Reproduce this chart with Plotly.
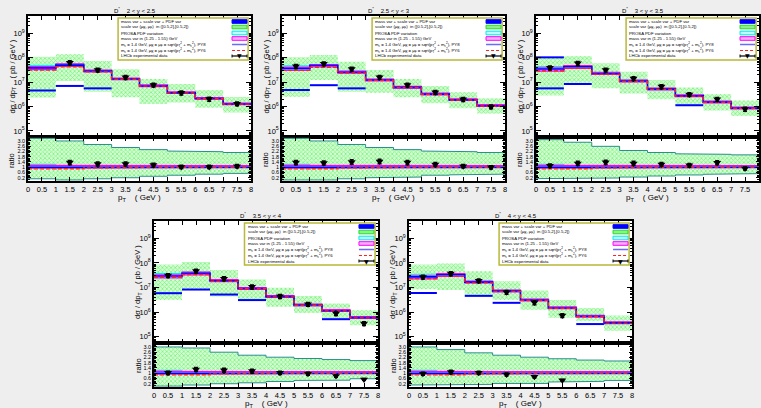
import plotly.graph_objects as go

W, H = 761, 408

# ---------------- data ----------------
pt_edges = [0, 1, 2, 3, 4, 5, 6, 7, 8]
pt_centers = [0.5, 1.5, 2.5, 3.5, 4.5, 5.5, 6.5, 7.5]
x_tick_vals = [0, 0.5, 1, 1.5, 2, 2.5, 3, 3.5, 4, 4.5, 5, 5.5, 6, 6.5, 7, 7.5, 8]
x_tick_text = ["0", "0.5", "1", "1.5", "2", "2.5", "3", "3.5", "4", "4.5", "5",
               "5.5", "6", "6.5", "7", "7.5", "8"]
y_tick_vals = [1e5, 1e6, 1e7, 1e8, 1e9]
y_tick_text = ["10<sup>5</sup>", "10<sup>6</sup>", "10<sup>7</sup>", "10<sup>8</sup>", "10<sup>9</sup>"]
r_tick_vals = [0.2, 0.6, 1.0, 1.4, 1.8, 2.2, 2.6, 3.0]
r_tick_text = ["0.2", "0.6", "1", "1.4", "1.8", "2.2", "2.6", "3.0"]

titles = ["D<sup>*</sup>    2 < y < 2.5", "D<sup>*</sup>    2.5 < y < 3", "D<sup>*</sup>    3 < y < 3.5",
          "D<sup>*</sup>    3.5 < y < 4", "D<sup>*</sup>    4 < y < 4.5"]

legend_labels = [
    "mass var + scale var + PDF var",
    "scale var (\u03bc<sub>R</sub>, \u03bc<sub>F</sub>)  in ([0.5,2],[0.5,2])",
    "PROSA PDF variation",
    "mass var in (1.25 - 1.55) GeV",
    "m<sub>c</sub> = 1.4 GeV, \u03bc<sub>R</sub> = \u03bc<sub>F</sub> = sqrt(p<sub>T</sub><sup>2</sup> + m<sub>c</sub><sup>2</sup>), PY8",
    "m<sub>c</sub> = 1.4 GeV, \u03bc<sub>R</sub> = \u03bc<sub>F</sub> = sqrt(p<sub>T</sub><sup>2</sup> + m<sub>c</sub><sup>2</sup>), PY6",
    "LHCb experimental data",
]

# panel 1 : 2 < y < 2.5
p1_py8 = [3.8e7, 4.9e7, 2.8e7, 1.32e7, 6.9e6, 3.6e6, 2.1e6, 1.26e6]
p1_py6 = [3.1e7, 4.2e7, 2.6e7, 1.3e7, 6.8e6, 3.55e6, 2.05e6, 1.24e6]
p1_mass_hi = [4.3e7, 5.5e7, 3.1e7, 1.45e7, 7.6e6, 3.95e6, 2.3e6, 1.38e6]
p1_mass_lo = [3.2e7, 4.3e7, 2.6e7, 1.24e7, 6.5e6, 3.4e6, 1.98e6, 1.19e6]
p1_pdf_hi = [4.8e7, 5.4e7, 3.0e7, 1.4e7, 7.3e6, 3.8e6, 2.2e6, 1.33e6]
p1_pdf_lo = [3.5e7, 4.5e7, 2.65e7, 1.26e7, 6.6e6, 3.45e6, 2.0e6, 1.2e6]
p1_scale_hi = [1.07e8, 1.38e8, 7.2e7, 3.3e7, 1.32e7, 8.3e6, 4.7e6, 2.45e6]
p1_scale_lo = [2.3e6, 1.1e7, 4.0e6, 2.4e6, 1.26e6, 1.45e6, 8.9e5, 5.6e5]
p1_tot_hi = [None, None, None, None, None, None, None, None]
p1_tot_lo = [4.5e6, 6.9e6, 5.5e6, None, None, None, None, None]
p1_data = [None, 6.2e7, 3.1e7, 1.55e7, 7.6e6, 3.6e6, 2.0e6, 1.29e6]
p1_r_scale_hi = [3.2, 3.0, 2.73, 2.5, 2.34, 2.23, 2.18, 2.12]
p1_r_scale_lo = [0.12, 0.03, 0.12, 0.2, 0.31, 0.39, 0.47, 0.53]
p1_r_data = [None, 1.35, 1.24, 1.24, 1.16, 1.02, 1.02, 1.08]

# panel 2 : 2.5 < y < 3
p2_py8 = [3.6e7, 4.7e7, 2.5e7, 1.2e7, 6.0e6, 3.2e6, 1.86e6, 1.07e6]
p2_py6 = [3.0e7, 4.0e7, 2.35e7, 1.18e7, 5.9e6, 3.15e6, 1.83e6, 1.05e6]
p2_mass_hi = [4.1e7, 5.2e7, 2.8e7, 1.32e7, 6.6e6, 3.5e6, 2.05e6, 1.18e6]
p2_mass_lo = [3.0e7, 4.1e7, 2.3e7, 1.12e7, 5.6e6, 3.0e6, 1.75e6, 1.0e6]
p2_pdf_hi = [4.6e7, 5.2e7, 2.75e7, 1.3e7, 6.5e6, 3.45e6, 2.0e6, 1.15e6]
p2_pdf_lo = [3.3e7, 4.3e7, 2.35e7, 1.14e7, 5.7e6, 3.05e6, 1.78e6, 1.02e6]
p2_scale_hi = [1.02e8, 1.26e8, 6.8e7, 3.1e7, 1.32e7, 6.9e6, 3.8e6, 2.14e6]
p2_scale_lo = [2.5e6, 1.2e7, 4.0e6, 3.6e6, 2.4e6, 1.35e6, 8.5e5, 5.2e5]
p2_tot_hi = [None, None, None, None, None, None, None, None]
p2_tot_lo = [4.7e6, 7.4e6, 5.5e6, None, None, None, None, None]
p2_data = [4.4e7, 5.6e7, 3.4e7, 1.58e7, 7.6e6, 3.8e6, 1.95e6, 9.8e5]
p2_r_scale_hi = [3.2, 3.0, 2.73, 2.5, 2.34, 2.23, 2.18, 2.12]
p2_r_scale_lo = [0.03, 0.03, 0.12, 0.2, 0.25, 0.39, 0.42, 0.47]
p2_r_data = [1.35, 1.32, 1.4, 1.43, 1.35, 1.21, 1.08, 0.99]

# panel 3 : 3 < y < 3.5
p3_py8 = [3.4e7, 4.2e7, 2.24e7, 1.1e7, 5.1e6, 2.7e6, 1.5e6, 8.5e5]
p3_py6 = [2.9e7, 3.7e7, 2.1e7, 1.05e7, 5.0e6, 2.65e6, 1.48e6, 8.4e5]
p3_mass_hi = [3.8e7, 4.7e7, 2.5e7, 1.21e7, 5.6e6, 2.95e6, 1.65e6, 9.3e5]
p3_mass_lo = [2.8e7, 3.6e7, 2.05e7, 1.02e7, 4.75e6, 2.5e6, 1.4e6, 7.9e5]
p3_pdf_hi = [4.3e7, 4.7e7, 2.45e7, 1.2e7, 5.55e6, 2.9e6, 1.62e6, 9.2e5]
p3_pdf_lo = [3.1e7, 3.8e7, 2.1e7, 1.04e7, 4.8e6, 2.55e6, 1.42e6, 8.0e5]
p3_scale_hi = [1.02e8, 1.15e8, 5.8e7, 2.6e7, 1.2e7, 5.9e6, 3.2e6, 1.74e6]
p3_scale_lo = [2.8e6, 9.3e6, 5.5e6, 3.4e6, 1.95e6, 1.15e6, 6.8e5, 4.1e5]
p3_tot_hi = [1.02e8, None, None, None, None, None, None, None]
p3_tot_lo = [5.5e6, 8.3e6, None, None, None, 1.12e6, None, None]
p3_data = [3.8e7, 5.8e7, 3.1e7, 1.4e7, 6.5e6, 3.1e6, 1.95e6, 7.8e5]
p3_r_scale_hi = [3.1, 2.9, 2.59, 2.27, 2.12, 2.02, 1.98, 1.94]
p3_r_scale_lo = [0.13, 0.15, 0.18, 0.25, 0.33, 0.41, 0.46, 0.51]
p3_r_data = [1.11, 1.29, 1.37, 1.29, 1.21, 1.14, 1.34, 0.90]

# panel 4 : 3.5 < y < 4
p4_py8 = [2.95e7, 3.8e7, 1.9e7, 9.1e6, 4.3e6, 1.95e6, 1.15e6, 6.0e5]
p4_py6 = [2.6e7, 3.4e7, 1.8e7, 8.9e6, 4.2e6, 1.92e6, 1.13e6, 5.9e5]
p4_mass_hi = [3.3e7, 4.2e7, 2.1e7, 1.0e7, 4.7e6, 2.15e6, 1.27e6, 6.6e5]
p4_mass_lo = [2.45e7, 3.25e7, 1.75e7, 8.5e6, 4.0e6, 1.82e6, 1.07e6, 5.6e5]
p4_pdf_hi = [3.7e7, 4.2e7, 2.05e7, 9.8e6, 4.6e6, 2.1e6, 1.24e6, 6.4e5]
p4_pdf_lo = [2.7e7, 3.4e7, 1.8e7, 8.7e6, 4.1e6, 1.86e6, 1.1e6, 5.7e5]
p4_scale_hi = [8.7e7, 1.1e8, 5.1e7, 2.14e7, 9.8e6, 4.5e6, 2.24e6, 1.2e6]
p4_scale_lo = [3.1e6, 8.3e6, 4.3e6, 3.1e6, 1.66e6, 9.3e5, 5.5e5, 2.95e5]
p4_tot_hi = [None, None, None, None, None, None, None, None]
p4_tot_lo = [5.9e6, 8.3e6, 5.2e6, 3.1e6, None, None, 5.2e5, None]
p4_data = [3.1e7, 4.7e7, 2.3e7, 1.07e7, 4.4e6, 2.1e6, 8.9e5, 3.5e5]
p4_r_scale_hi = [3.0, 2.92, 2.6, 2.37, 2.22, 2.12, 2.04, 1.96]
p4_r_scale_lo = [0.02, 0.1, 0.2, 0.27, 0.37, 0.45, 0.47, 0.58]
p4_r_data = [1.03, 1.28, 1.23, 1.16, 1.03, 0.95, 0.78, 0.53]

# panel 5 : 4 < y < 4.5
p5_py8 = [2.7e7, 3.3e7, 1.66e7, 7.2e6, 3.1e6, 1.48e6, 6.8e5, 3.7e5]
p5_py6 = [2.3e7, 2.9e7, 1.55e7, 7.0e6, 3.05e6, 1.45e6, 6.7e5, 3.6e5]
p5_mass_hi = [3.0e7, 3.65e7, 1.83e7, 7.9e6, 3.4e6, 1.63e6, 7.5e5, 4.05e5]
p5_mass_lo = [2.25e7, 2.85e7, 1.53e7, 6.7e6, 2.9e6, 1.38e6, 6.35e5, 3.45e5]
p5_pdf_hi = [3.4e7, 3.6e7, 1.8e7, 7.8e6, 3.35e6, 1.6e6, 7.4e5, 4.0e5]
p5_pdf_lo = [2.45e7, 2.95e7, 1.56e7, 6.8e6, 2.95e6, 1.4e6, 6.45e5, 3.5e5]
p5_scale_hi = [8.7e7, 9.5e7, 4.6e7, 1.78e7, 7.6e6, 3.1e6, 1.48e6, 7.4e5]
p5_scale_lo = [8.5e6, 7.9e6, 5.0e6, 3.1e6, 1.26e6, 5.9e5, 4.3e5, 1.78e5]
p5_tot_hi = [None, None, None, None, None, None, None, None]
p5_tot_lo = [6.0e6, None, 4.6e6, 2.4e6, None, None, 3.3e5, None]
p5_data = [2.7e7, 3.7e7, 1.9e7, 6.5e6, 2.45e6, 7.4e5, None, None]
p5_r_scale_hi = [3.0, 2.8, 2.55, 2.37, 2.22, 2.1, 2.0, 1.93]
p5_r_scale_lo = [0.1, 0.1, 0.15, 0.22, 0.22, 0.33, 0.38, 0.45]
p5_r_data = [0.95, 1.10, 1.03, 0.90, 0.73, 0.47, None, None]

# ratio-panel central bands (common to all rapidity bins)
r_mass_hi = [1.14, 1.12, 1.12, 1.12, 1.12, 1.12, 1.12, 1.12]
r_mass_lo = [0.93, 0.95, 0.96, 0.96, 0.96, 0.96, 0.96, 0.96]
r_pdf_hi = [1.22, 1.13, 1.1, 1.1, 1.1, 1.1, 1.1, 1.1]
r_pdf_lo = [0.95, 0.96, 0.97, 0.97, 0.97, 0.97, 0.97, 0.97]
r_py8 = [1.0, 1.0, 1.0, 1.0, 1.0, 1.0, 1.0, 1.0]
r_py6 = [0.87, 0.88, 0.95, 0.98, 0.99, 0.99, 0.99, 0.99]

panels_data = [
    dict(py8=p1_py8, py6=p1_py6, mhi=p1_mass_hi, mlo=p1_mass_lo, phi=p1_pdf_hi, plo=p1_pdf_lo,
         shi=p1_scale_hi, slo=p1_scale_lo, thi=p1_tot_hi, tlo=p1_tot_lo, data=p1_data,
         rshi=p1_r_scale_hi, rslo=p1_r_scale_lo, rdata=p1_r_data),
    dict(py8=p2_py8, py6=p2_py6, mhi=p2_mass_hi, mlo=p2_mass_lo, phi=p2_pdf_hi, plo=p2_pdf_lo,
         shi=p2_scale_hi, slo=p2_scale_lo, thi=p2_tot_hi, tlo=p2_tot_lo, data=p2_data,
         rshi=p2_r_scale_hi, rslo=p2_r_scale_lo, rdata=p2_r_data),
    dict(py8=p3_py8, py6=p3_py6, mhi=p3_mass_hi, mlo=p3_mass_lo, phi=p3_pdf_hi, plo=p3_pdf_lo,
         shi=p3_scale_hi, slo=p3_scale_lo, thi=p3_tot_hi, tlo=p3_tot_lo, data=p3_data,
         rshi=p3_r_scale_hi, rslo=p3_r_scale_lo, rdata=p3_r_data),
    dict(py8=p4_py8, py6=p4_py6, mhi=p4_mass_hi, mlo=p4_mass_lo, phi=p4_pdf_hi, plo=p4_pdf_lo,
         shi=p4_scale_hi, slo=p4_scale_lo, thi=p4_tot_hi, tlo=p4_tot_lo, data=p4_data,
         rshi=p4_r_scale_hi, rslo=p4_r_scale_lo, rdata=p4_r_data),
    dict(py8=p5_py8, py6=p5_py6, mhi=p5_mass_hi, mlo=p5_mass_lo, phi=p5_pdf_hi, plo=p5_pdf_lo,
         shi=p5_scale_hi, slo=p5_scale_lo, thi=p5_tot_hi, tlo=p5_tot_lo, data=p5_data,
         rshi=p5_r_scale_hi, rslo=p5_r_scale_lo, rdata=p5_r_data),
]

# ---------------- layout geometry (pixels) ----------------
geom = [
    dict(x0=28, x1=251, yt=16, ym=137, yb=181),
    dict(x0=282, x1=505, yt=16, ym=137, yb=181),
    dict(x0=536, x1=759, yt=16, ym=137, yb=181),
    dict(x0=154, x1=378, yt=221, ym=343, yb=387),
    dict(x0=409, x1=632, yt=221, ym=343, yb=387),
]

FONT = "Liberation Sans"
BLUE = "#0000ff"
PY8C = "#6a6aff"
RED = "#ff2020"
MAG = "#ff00ff"
CYAN = "#00e8e8"
TEAL = "#2a8f8f"


def band_path(lo, hi):
    xs, ys = [], []
    for i in range(len(hi)):
        xs += [pt_edges[i], pt_edges[i + 1]]
        ys += [hi[i], hi[i]]
    for i in reversed(range(len(lo))):
        xs += [pt_edges[i + 1], pt_edges[i]]
        ys += [lo[i], lo[i]]
    xs.append(xs[0])
    ys.append(ys[0])
    return xs, ys


def segs(vals):
    xs, ys = [], []
    for i, v in enumerate(vals):
        if v is None:
            continue
        xs += [pt_edges[i], pt_edges[i + 1], None]
        ys += [v, v, None]
    return xs, ys


def px(x):
    return x / W


def py(y):
    return 1 - y / H


def note(x, y, text, size, xanchor="center", angle=0, family=FONT):
    return dict(x=px(x), y=py(y), xref="paper", yref="paper", xanchor=xanchor, yanchor="middle",
                text=text, showarrow=False, textangle=angle,
                font=dict(family=family, size=size, color="black"))


fig = go.Figure()
layout = {}
annotations = []
shapes = []

minor_log = [k * 10 ** e for e in range(4, 10) for k in range(2, 10)]

for i, (pd_, g) in enumerate(zip(panels_data, geom)):
    xm, ym_ = f"x{2*i+1}", f"y{2*i+1}"
    xr, yr = f"x{2*i+2}", f"y{2*i+2}"
    common = dict(showlegend=False, hoverinfo="skip")

    # ---- main panel ----
    bx, by = band_path(pd_["slo"], pd_["shi"])
    fig.add_trace(go.Scatter(x=bx, y=by, xaxis=xm, yaxis=ym_, mode="lines", fill="toself",
                             line=dict(width=0, color="rgba(0,0,0,0)"),
                             fillpattern=dict(shape="x", fgcolor="#2ee02e", bgcolor="#d4ffd4",
                                              size=3, solidity=0.45), **common))
    for arr in (pd_["thi"], pd_["tlo"]):
        sx, sy = segs(arr)
        if sx:
            fig.add_trace(go.Scatter(x=sx, y=sy, xaxis=xm, yaxis=ym_, mode="lines",
                                     line=dict(color=BLUE, width=2), **common))
    bx, by = band_path(pd_["plo"], pd_["phi"])
    fig.add_trace(go.Scatter(x=bx, y=by, xaxis=xm, yaxis=ym_, mode="lines", fill="toself",
                             fillcolor="rgba(170,255,255,0.7)", line=dict(width=1, color=CYAN), **common))
    bx, by = band_path(pd_["mlo"], pd_["mhi"])
    fig.add_trace(go.Scatter(x=bx, y=by, xaxis=xm, yaxis=ym_, mode="lines", fill="toself",
                             fillcolor="rgba(255,150,255,0.6)", line=dict(width=1.2, color=MAG), **common))
    fig.add_trace(go.Scatter(x=pt_edges, y=pd_["py8"] + [pd_["py8"][-1]], xaxis=xm, yaxis=ym_,
                             mode="lines", line=dict(color=BLUE, width=1.6, shape="hv"), **common))
    fig.add_trace(go.Scatter(x=pt_edges, y=pd_["py6"] + [pd_["py6"][-1]], xaxis=xm, yaxis=ym_,
                             mode="lines", line=dict(color=RED, width=1.4, shape="hv", dash="4px,2px"),
                             **common))
    fig.add_trace(go.Scatter(x=pt_centers, y=pd_["data"], xaxis=xm, yaxis=ym_, mode="markers",
                             marker=dict(symbol="triangle-down", size=7, color="black"),
                             error_y=dict(type="percent", value=18, color="black", thickness=1.5, width=2),
                             **common))

    # ---- ratio panel ----
    bx, by = band_path(pd_["rslo"], pd_["rshi"])
    fig.add_trace(go.Scatter(x=bx, y=by, xaxis=xr, yaxis=yr, mode="lines", fill="toself",
                             line=dict(width=1, color=TEAL),
                             fillpattern=dict(shape="x", fgcolor="#2ee02e", bgcolor="#d4ffd4",
                                              size=3, solidity=0.45), **common))
    bx, by = band_path(r_pdf_lo, r_pdf_hi)
    fig.add_trace(go.Scatter(x=bx, y=by, xaxis=xr, yaxis=yr, mode="lines", fill="toself",
                             fillcolor="rgba(170,255,255,0.7)", line=dict(width=1, color=CYAN), **common))
    bx, by = band_path(r_mass_lo, r_mass_hi)
    fig.add_trace(go.Scatter(x=bx, y=by, xaxis=xr, yaxis=yr, mode="lines", fill="toself",
                             fillcolor="rgba(255,120,255,0.6)", line=dict(width=1.2, color=MAG), **common))
    fig.add_trace(go.Scatter(x=pt_edges, y=r_py8 + [r_py8[-1]], xaxis=xr, yaxis=yr, mode="lines",
                             line=dict(color=BLUE, width=1.6, shape="hv"), **common))
    fig.add_trace(go.Scatter(x=pt_edges, y=r_py6 + [r_py6[-1]], xaxis=xr, yaxis=yr, mode="lines",
                             line=dict(color=RED, width=1.4, shape="hv", dash="4px,2px"), **common))
    fig.add_trace(go.Scatter(x=pt_centers, y=pd_["rdata"], xaxis=xr, yaxis=yr, mode="markers",
                             marker=dict(symbol="triangle-down", size=7, color="black"),
                             error_y=dict(type="percent", value=12, color="black", thickness=1.5, width=2),
                             **common))

    # ---- axes ----
    xdom = [px(g["x0"]), px(g["x1"])]
    ax_common = dict(showline=True, linecolor="black", linewidth=1.5, mirror="allticks",
                     ticks="inside", tickcolor="black", showgrid=False, zeroline=False,
                     automargin=False,
                     tickfont=dict(family=FONT, size=7.5, color="black"))
    layout[f"xaxis{2*i+1}"] = dict(domain=xdom, anchor=ym_, range=[0, 8], tickmode="array",
                                   tickvals=x_tick_vals, showticklabels=False, ticklen=4, **ax_common)
    layout[f"yaxis{2*i+1}"] = dict(domain=[py(g["ym"]), py(g["yt"])], anchor=xm, type="log",
                                   range=[4.75, 9.7], tickmode="array", tickvals=y_tick_vals,
                                   ticktext=y_tick_text, ticklen=5,
                                   minor=dict(ticks="inside", ticklen=2.5, tickcolor="black",
                                              tickmode="array", tickvals=minor_log),
                                   **ax_common)
    layout[f"xaxis{2*i+2}"] = dict(domain=xdom, anchor=yr, range=[0, 8], tickmode="array",
                                   tickvals=x_tick_vals, ticktext=x_tick_text, ticklen=4, **ax_common)
    rc = dict(ax_common)
    rc["tickfont"] = dict(family=FONT, size=5.5, color="black")
    layout[f"yaxis{2*i+2}"] = dict(domain=[py(g["yb"]), py(g["ym"])], anchor=xr, range=[-0.05, 3.3],
                                   tickmode="array", tickvals=r_tick_vals, ticktext=r_tick_text,
                                   ticklen=3, minor=dict(ticks="inside", ticklen=2, dtick=0.1,
                                                         tickcolor="black"), **rc)

    # ---- text ----
    cx = (g["x0"] + g["x1"]) / 2
    annotations.append(note(cx - 5, g["yt"] - 6, titles[i], 6))
    annotations.append(note(g["x0"] - 16, (g["yt"] + g["ym"]) / 2,
                            "d\u03c3 / dp<sub>T</sub>    ( pb / GeV )", 7.5, angle=-90))
    annotations.append(note(g["x0"] - 16, (g["ym"] + g["yb"]) / 2 + 1, "ratio", 7.5, angle=-90))
    annotations.append(note(cx, g["yb"] + 17, "p<sub>T</sub>    ( GeV )", 8))

    # ---- legend (drawn by hand) ----
    w = g["x1"] - g["x0"]
    lx0 = g["x0"] + 0.404 * w
    lx1 = g["x0"] + 0.987 * w
    ly0 = g["yt"] + 2
    ly1 = g["yt"] + 44
    shapes.append(dict(type="rect", xref="paper", yref="paper", x0=px(lx0), x1=px(lx1),
                       y0=py(ly1), y1=py(ly0), line=dict(color="#b8b83a", width=1.5),
                       fillcolor="white", layer="above"))
    rows = [5.5, 11, 17, 22.5, 28.5, 34.5, 40]
    sx0 = g["x0"] + 0.915 * w
    sx1 = g["x0"] + 0.982 * w
    for k, (lab, ry) in enumerate(zip(legend_labels, rows)):
        yy = g["yt"] + ry
        annotations.append(note(lx0 + 1.2, yy, lab, 4.3, xanchor="left"))
        if k <= 3:
            fc = [BLUE, "#8cf08c", "#c0ffff", "#ffb0ff"][k]
            lc = [BLUE, "#22dd22", CYAN, MAG][k]
            shapes.append(dict(type="rect", xref="paper", yref="paper", x0=px(sx0), x1=px(sx1),
                               y0=py(yy + 1.8), y1=py(yy - 1.8), fillcolor=fc,
                               line=dict(color=lc, width=1), layer="above"))
        elif k == 4:
            shapes.append(dict(type="line", xref="paper", yref="paper", x0=px(sx0), x1=px(sx1),
                               y0=py(yy), y1=py(yy), line=dict(color=PY8C, width=1.5), layer="above"))
        elif k == 5:
            shapes.append(dict(type="line", xref="paper", yref="paper", x0=px(sx0), x1=px(sx1),
                               y0=py(yy), y1=py(yy), line=dict(color=RED, width=1.2, dash="3px,2px"),
                               layer="above"))
        else:
            shapes.append(dict(type="line", xref="paper", yref="paper", x0=px(sx0), x1=px(sx1),
                               y0=py(yy), y1=py(yy), line=dict(color="black", width=1.2), layer="above"))
            for ex in (sx0, sx1):
                shapes.append(dict(type="line", xref="paper", yref="paper", x0=px(ex), x1=px(ex),
                                   y0=py(yy - 1.5), y1=py(yy + 1.5), line=dict(color="black", width=1),
                                   layer="above"))
            annotations.append(note((sx0 + sx1) / 2, yy, "\u25bc", 6, family="DejaVu Sans"))

fig.update_layout(**layout)
fig.update_layout(width=W, height=H, margin=dict(l=0, r=0, t=0, b=0, pad=0),
                  paper_bgcolor="#eeeeee", plot_bgcolor="white",
                  annotations=annotations, shapes=shapes, showlegend=False)
fig.write_html("out.html", config={"displayModeBar": False},
               post_script="document.body.style.margin='0';document.body.style.padding='0';"
                           "document.body.style.overflow='hidden';")
